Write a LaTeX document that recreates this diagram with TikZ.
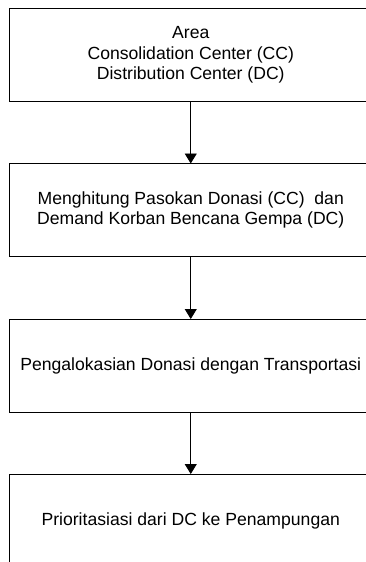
\documentclass[tikz,border=0pt]{standalone}
\usepackage{fontspec}
\setmainfont{Liberation Sans}
\usetikzlibrary{arrows.meta}
\begin{document}
\begin{tikzpicture}[x=1pt,y=-1pt,
  procbox/.style={draw=black, line width=0.9pt, minimum width=362.5pt, minimum height=93pt,
    inner sep=0pt, outer sep=0pt, anchor=north, align=center,
    font=\fontsize{17.6}{20.4}\selectfont},
  flow/.style={draw=black, line width=0.9pt, -{Triangle[width=12pt,length=10pt]}}]
\useasboundingbox (0,0) rectangle (366,562);
\clip (0,0) rectangle (366,562);
\node[procbox] (b1) at (190.75,8.5) {Area\\Consolidation Center (CC)\\Distribution Center (DC)};
\node[procbox] (b2) at (190.75,163.5) {Menghitung Pasokan Donasi (CC)\ \ dan\\Demand Korban Bencana Gempa (DC)};
\node[procbox] (b3) at (190.75,319) {Pengalokasian Donasi dengan Transportasi};
\node[procbox] (b4) at (190.75,474) {Prioritasiasi dari DC ke Penampungan};
\draw[flow] (b1.south) -- (b2.north);
\draw[flow] (b2.south) -- (b3.north);
\draw[flow] (b3.south) -- (b4.north);
\end{tikzpicture}
\end{document}
